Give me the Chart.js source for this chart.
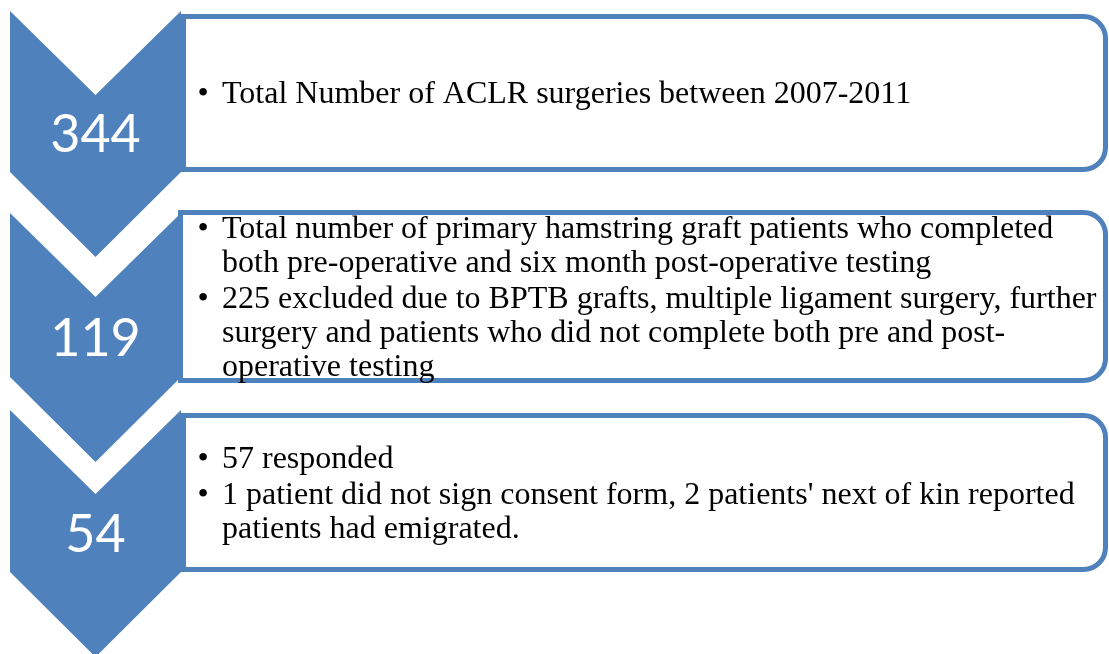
<!DOCTYPE html>
<html>
<head>
<meta charset="utf-8">
<script src="https://cdn.jsdelivr.net/npm/chart.js@4/dist/chart.umd.min.js"></script>
<style>
  html, body { margin: 0; padding: 0; background: #ffffff; }
  #flow { display: block; }
</style>
</head>
<body>
<canvas id="flow" width="1109" height="654"></canvas>
<script>
// stage counts shown in the chevrons
const stageCounts = ['344', '119', '54'];

// bullet notes per stage, each bullet split into its wrapped lines
const stageNotes = [
  [
    ['Total Number of ACLR surgeries between 2007-2011']
  ],
  [
    ['Total number of primary hamstring graft patients who completed',
     'both pre-operative and six month post-operative testing'],
    ['225 excluded due to BPTB grafts, multiple ligament surgery, further',
     'surgery and patients who did not complete both pre and post-',
     'operative testing']
  ],
  [
    ['57 responded'],
    ['1 patient did not sign consent form, 2 patients\' next of kin reported',
     'patients had emigrated.']
  ]
];

// layout (page units, same as the canvas)
const chevronTops = [11, 213, 410];
const chevronBodyEnds = [172, 377, 572];
const boxTops = [14, 210, 413];
const boxBottoms = [172, 383, 572];
const boxLefts = [181, 178, 181];

const BLUE = '#4f81bd';
const CHEV_LEFT = 10;
const CHEV_RIGHT = 181;
const NOTCH = 84;
const BOX_RIGHT = 1108;
const BOX_RADIUS = 22;
const BORDER = 5;
const LINE_PITCH = 34;
const BULLET_GAP = 2.5;

const flowPlugin = {
  id: 'flow',
  afterDraw(chart) {
    const { ctx } = chart;
    const sx = chart.scales.x;
    const sy = chart.scales.y;
    const px = (v) => sx.getPixelForValue(v);
    const py = (v) => sy.getPixelForValue(v);
    const mid = (CHEV_LEFT + CHEV_RIGHT) / 2;

    ctx.save();

    // chevrons
    stageCounts.forEach((count, i) => {
      const top = chevronTops[i];
      const end = chevronBodyEnds[i];
      ctx.beginPath();
      ctx.moveTo(px(CHEV_LEFT), py(top));
      ctx.lineTo(px(mid), py(top + NOTCH));
      ctx.lineTo(px(CHEV_RIGHT), py(top));
      ctx.lineTo(px(CHEV_RIGHT), py(end));
      ctx.lineTo(px(mid), py(end + NOTCH + 1));
      ctx.lineTo(px(CHEV_LEFT), py(end));
      ctx.closePath();
      ctx.fillStyle = BLUE;
      ctx.fill();
    });

    // boxes
    stageNotes.forEach((notes, i) => {
      const half = BORDER / 2;
      const l = px(boxLefts[i]) + half;
      const r = px(BOX_RIGHT) - half;
      const t = py(boxTops[i]) + half;
      const b = py(boxBottoms[i]) - half;
      ctx.beginPath();
      ctx.moveTo(l, t);
      ctx.lineTo(r - BOX_RADIUS, t);
      ctx.arcTo(r, t, r, t + BOX_RADIUS, BOX_RADIUS);
      ctx.lineTo(r, b - BOX_RADIUS);
      ctx.arcTo(r, b, r - BOX_RADIUS, b, BOX_RADIUS);
      ctx.lineTo(l, b);
      ctx.closePath();
      ctx.fillStyle = '#ffffff';
      ctx.fill();
      ctx.lineWidth = BORDER;
      ctx.strokeStyle = BLUE;
      ctx.stroke();

      // bullet text
      const lineCount = notes.reduce((n, lines) => n + lines.length, 0);
      const blockH = (lineCount - 1) * LINE_PITCH + (notes.length - 1) * BULLET_GAP;
      let y = (py(boxTops[i]) + py(boxBottoms[i])) / 2 - blockH / 2 + 2;
      ctx.fillStyle = '#000000';
      ctx.textBaseline = 'middle';
      ctx.font = '32px "Liberation Serif", "Times New Roman", serif';
      notes.forEach((lines) => {
        ctx.textAlign = 'center';
        ctx.fillText('\u2022', px(203), y);
        ctx.textAlign = 'left';
        lines.forEach((line) => {
          ctx.fillText(line, px(222), y);
          y += LINE_PITCH;
        });
        y += BULLET_GAP;
      });
    });

    // counts
    ctx.fillStyle = '#ffffff';
    ctx.textAlign = 'center';
    ctx.textBaseline = 'middle';
    ctx.font = '52px Lato, "Open Sans", sans-serif';
    stageCounts.forEach((count, i) => {
      const cy = (chevronTops[i] + NOTCH + chevronBodyEnds[i]) / 2;
      ctx.fillText(count, px(mid), py(cy) + 2);
    });

    ctx.restore();
  }
};

new Chart(document.getElementById('flow'), {
  type: 'scatter',
  data: { datasets: [] },
  options: {
    responsive: false,
    animation: false,
    layout: { padding: 0 },
    plugins: { legend: { display: false }, tooltip: { enabled: false } },
    scales: {
      x: { type: 'linear', min: 0, max: 1109, display: false },
      y: { type: 'linear', min: 0, max: 654, reverse: true, display: false }
    }
  },
  plugins: [flowPlugin]
});
</script>
</body>
</html>
